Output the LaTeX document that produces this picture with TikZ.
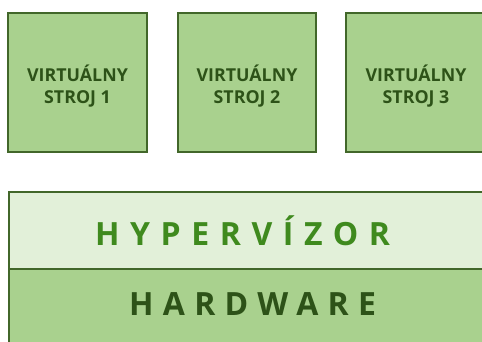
\documentclass[tikz,border=0pt]{standalone}
\usepackage{fontspec}
\setmainfont{Open Sans}
\newfontfamily\spaced[LetterSpace=33]{Open Sans}
\newfontfamily\spacedb[LetterSpace=29]{Open Sans}
\definecolor{boxfill}{HTML}{A9D18E}
\definecolor{boxline}{HTML}{42672A}
\definecolor{hypfill}{HTML}{E2F0D9}
\definecolor{hyptext}{HTML}{3F8A1E}
\definecolor{darktext}{HTML}{2D5218}
\begin{document}
\begin{tikzpicture}[x=1pt,y=-1pt,
  vmbox/.style={draw=boxline,line width=2.6pt,fill=boxfill},
  vmtext/.style={font=\fontsize{17.8}{21.5}\selectfont\bfseries,text=darktext,align=center},
  layer/.style={draw=boxline,line width=2.6pt},
  layertext/.style={anchor=west,inner sep=0pt}]
\useasboundingbox (0,0) rectangle (482,342);
\draw[vmbox] (8,13) rectangle (147,152);
\draw[vmbox] (178,13) rectangle (316,152);
\draw[vmbox] (346,13) rectangle (490,152);
\node[vmtext] (vm1) at (77.5,86) {VIRTUÁLNY\\STROJ 1};
\node[vmtext] (vm2) at (247,86) {VIRTUÁLNY\\STROJ 2};
\node[vmtext] (vm3) at (416,86) {VIRTUÁLNY\\STROJ 3};
\draw[layer,fill=hypfill] (9,192) rectangle (490,269);
\draw[layer,fill=boxfill] (9,269) rectangle (490,350);
\node[layertext,font=\spaced\fontsize{32}{34}\selectfont\bfseries,text=hyptext] (hyp) at (95,231) {HYPERVÍZOR};
\node[layertext,font=\spacedb\fontsize{32}{34}\selectfont\bfseries,text=darktext] (hw) at (129,304) {HARDWARE};
\end{tikzpicture}
\end{document}
